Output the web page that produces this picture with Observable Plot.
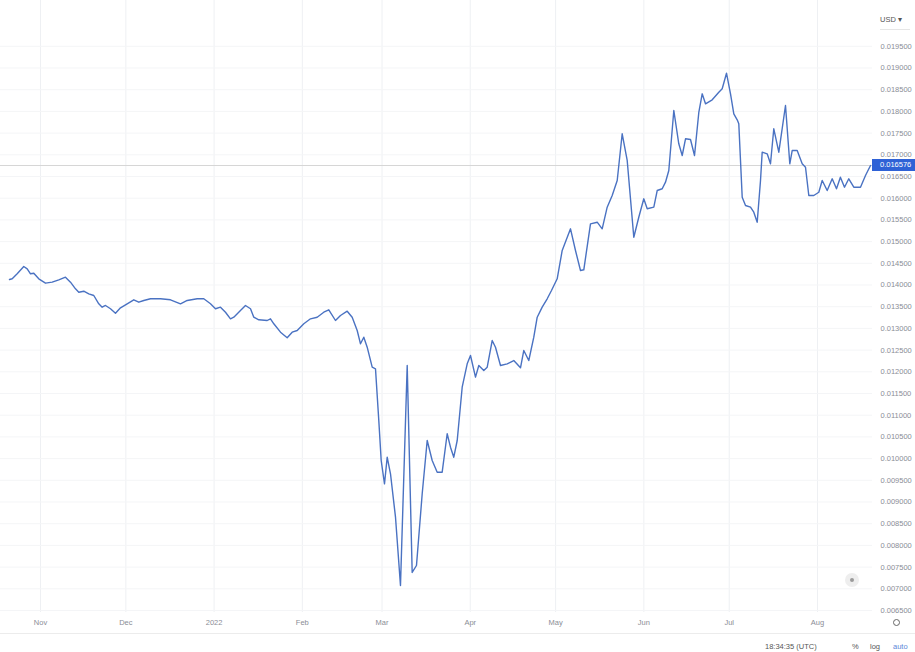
<!DOCTYPE html>
<html><head><meta charset="utf-8">
<script src="https://cdn.jsdelivr.net/npm/d3@7"></script>
<script src="https://cdn.jsdelivr.net/npm/@observablehq/plot@0.6"></script>
<style>
body{margin:0;background:#fff;font-family:"Liberation Sans",Arial,sans-serif;}
#wrap{position:relative;width:915px;height:652px;overflow:hidden;background:#fff;}
#wrap svg{position:absolute;left:0;top:0;}
.ov{position:absolute;font-size:7.5px;line-height:9px;color:#8a8d96;white-space:nowrap;}
</style></head><body><div id="wrap"></div>
<script>
// days since 2021-11-01 (UTC)
const dayOffsets=[-10.89,-9.94,-8.19,-5.87,-4.67,-3.51,-2.35,-0.60,1.76,4.11,
6.43,8.78,10.54,12.30,13.46,15.21,16.97,18.73,20.48,21.68,
22.84,24.60,26.35,28.11,30.46,32.78,34.54,36.30,38.65,42.16,
45.68,49.19,51.55,55.06,57.38,59.73,61.49,63.25,65.00,66.76,
67.92,70.27,72.03,73.79,74.95,76.70,79.66,80.81,81.98,84.33,
86.68,88.44,90.20,92.52,94.87,97.22,99.54,101.30,103.65,105.41,
107.77,109.52,111.28,112.44,113.60,114.79,116.55,117.71,118.87,119.71,
120.87,121.82,122.98,124.74,126.49,128.85,130.60,132.11,134.12,
135.88,137.63,139.39,141.14,142.90,144.06,145.22,146.42,148.17,149.93,
151.09,152.85,154.01,155.76,156.96,158.71,159.87,161.63,163.99,166.30,
168.66,169.82,171.57,173.33,174.53,176.28,178.04,179.55,181.55,183.31,
186.23,187.98,189.74,190.90,193.25,195.61,197.36,199.12,200.88,202.64,
204.39,206.15,208.47,210.22,211.98,213.18,215.50,216.69,218.45,219.61,
220.77,222.53,224.28,225.48,226.64,228.39,229.80,231.31,232.50,233.66,
236.02,238.34,239.53,241.04,242.45,243.61,244.80,245.36,246.56,247.72,
249.47,250.63,251.83,252.99,253.58,255.34,256.50,257.66,259.42,261.77,
263.28,264.12,265.88,267.64,268.80,269.96,271.71,273.47,274.67,276.42,
278.18,279.69,281.06,282.50,284.01,285.77,288.12,289.88,291.64];
const rates=[0.014127,0.014143,0.014258,0.014426,0.014373,0.014258,0.014272,0.014143,0.014042,0.014065,
0.014120,0.014180,0.014065,0.013912,0.013834,0.013857,0.013797,0.013758,0.013567,0.013489,
0.013528,0.013452,0.013350,0.013475,0.013567,0.013659,0.013604,0.013643,0.013682,0.013682,
0.013659,0.013567,0.013643,0.013682,0.013682,0.013567,0.013452,0.013489,0.013373,0.013221,
0.013258,0.013413,0.013528,0.013452,0.013258,0.013198,0.013182,0.013221,0.013106,0.012913,
0.012784,0.012913,0.012952,0.013106,0.013221,0.013258,0.013373,0.013429,0.013182,0.013297,
0.013396,0.013258,0.012952,0.012645,0.012797,0.012567,0.012106,0.012069,0.010878,0.009956,
0.009419,0.010032,0.009650,0.008650,0.007076,0.012145,0.007376,0.007537,0.009189,
0.010417,0.009956,0.009687,0.009687,0.010572,0.010263,0.010032,0.010417,0.011645,0.012184,
0.012376,0.011876,0.012145,0.012030,0.012106,0.012721,0.012567,0.012145,0.012184,0.012260,
0.012092,0.012491,0.012260,0.012797,0.013258,0.013489,0.013682,0.013873,0.014143,0.014795,
0.015295,0.014795,0.014334,0.014350,0.015410,0.015447,0.015295,0.015793,0.016062,0.016408,
0.017484,0.016869,0.015101,0.015562,0.015986,0.015756,0.015793,0.016177,0.016217,0.016369,
0.016638,0.018021,0.017253,0.016984,0.017369,0.017353,0.016984,0.017975,0.018405,0.018175,
0.018267,0.018442,0.018521,0.018880,0.018405,0.017945,0.017806,0.017714,0.016023,0.015832,
0.015793,0.015677,0.015447,0.016408,0.017060,0.017023,0.016793,0.017599,0.017060,0.018136,
0.016793,0.017099,0.017099,0.016793,0.016714,0.016062,0.016062,0.016138,0.016408,0.016177,
0.016447,0.016217,0.016484,0.016253,0.016447,0.016253,0.016253,0.016523,0.016753];
const monthTicks=["2021-11-01","2021-12-01","2022-01-01","2022-02-01","2022-03-01","2022-04-01","2022-05-01","2022-06-01","2022-07-01","2022-08-01"];
const monthLabels=["Nov","Dec","2022","Feb","Mar","Apr","May","Jun","Jul","Aug"];
const yTicks=[0.0065,0.0070,0.0075,0.0080,0.0085,0.0090,0.0095,0.0100,0.0105,0.0110,0.0115,0.0120,0.0125,0.0130,0.0135,0.0140,0.0145,0.0150,0.0155,0.0160,0.0165,0.0170,0.0175,0.0180,0.0185,0.0190,0.0195];
const viewDays=[-14.05,292.34];
const yView=[0.0064539,0.0205553];
const lastPriceText="0.016576";
const quoteCurrency="USD";
const clockText="18:34:35 (UTC)";
const scaleButtons=["%","log","auto"];

const DAY=864e5, base=Date.UTC(2021,10,1);
const data=dayOffsets.map((d,i)=>({date:new Date(base+d*DAY),rate:rates[i]}));
const tickDates=monthTicks.map(s=>new Date(s));
const labelMap=new Map(tickDates.map((d,i)=>[+d,monthLabels[i]]));
const lastRate=rates[rates.length-1];

const plot=Plot.plot({
  width:915,height:652,
  marginLeft:0,marginRight:43,marginTop:0,marginBottom:40,
  style:{fontFamily:"'Liberation Sans',Arial,sans-serif",fontSize:"7.5px",color:"#8a8d96",background:"transparent"},
  x:{type:"time",domain:viewDays.map(d=>new Date(base+d*DAY))},
  y:{domain:yView},
  marks:[
    Plot.gridX(tickDates,{stroke:"#eef0f3",strokeOpacity:1}),
    Plot.gridY(yTicks,{stroke:"#f4f5f7",strokeOpacity:1}),
    Plot.ruleY([lastRate],{stroke:"#d6d6d6",strokeWidth:1}),
    Plot.line(data,{x:"date",y:"rate",stroke:"#4a72c2",strokeWidth:1.4,curve:"linear"}),
    Plot.axisX(tickDates,{label:null,tickSize:0,tickPadding:7,tickFormat:d=>labelMap.get(+d),fill:"#8a8d96"}),
    Plot.axisY(yTicks,{label:null,anchor:"right",tickSize:0,tickPadding:8,tickFormat:d=>d.toFixed(6),fill:"#8a8d96"})
  ]
});
const wrap=document.getElementById("wrap");
wrap.appendChild(plot);

function ov(html,css){const e=document.createElement("div");e.className="ov";e.innerHTML=html;Object.assign(e.style,css);wrap.appendChild(e);return e;}
// bottom axis separator
ov("",{left:"0px",top:"633px",width:"915px",height:"1px",background:"#ececec"});
// current price tag
const yPos=plot.scale("y").apply(lastRate);
ov(lastPriceText,{left:"872px",top:(yPos-6)+"px",width:"43px",height:"12px",lineHeight:"12px",background:"#2f62d6",color:"#fff",paddingLeft:"8px",boxSizing:"border-box"});
// currency header
ov(quoteCurrency+" ▾",{left:"880px",top:"15px",color:"#555"});
ov("",{left:"880px",top:"29px",width:"30px",height:"1px",background:"#e6e6e6"});
// clock and scale buttons
ov(clockText,{left:"765px",top:"642px",color:"#555"});
ov(scaleButtons[0],{left:"852px",top:"642px",color:"#555"});
ov(scaleButtons[1],{left:"870px",top:"642px",color:"#555"});
ov(scaleButtons[2],{left:"893px",top:"642px",color:"#5d86d8"});
// settings ring
ov("",{left:"893px",top:"619px",width:"5px",height:"5px",border:"1.5px solid #666",borderRadius:"50%"});
// scroll button
ov("",{left:"845px",top:"573px",width:"14px",height:"14px",background:"#eeeeee",borderRadius:"50%"});
ov("",{left:"850px",top:"578px",width:"4px",height:"4px",background:"#9a9a9a",borderRadius:"50%"});
</script></body></html>
